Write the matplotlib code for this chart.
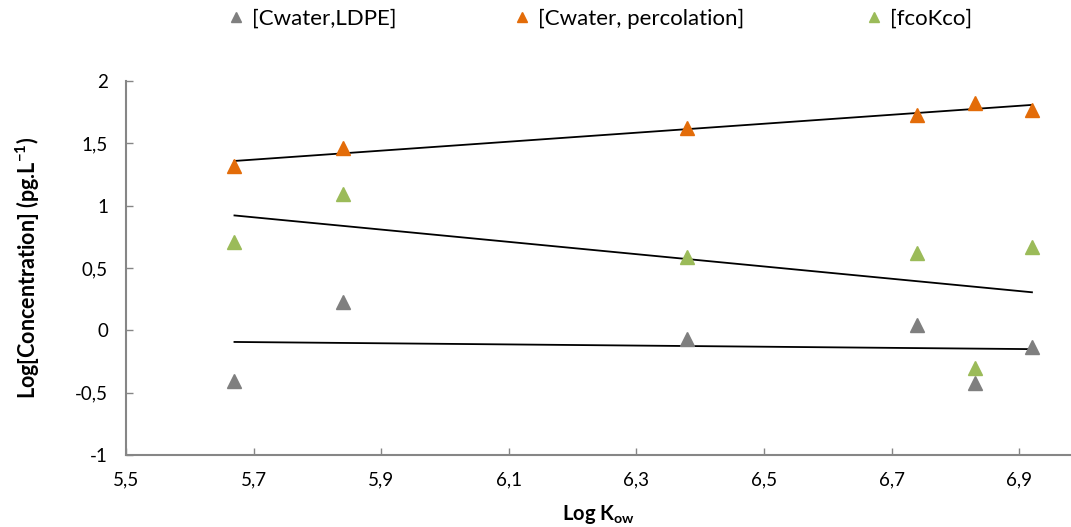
import numpy as np
import matplotlib
matplotlib.use("Agg")
import matplotlib.pyplot as plt

plt.rcParams['font.family'] = ['Lato', 'DejaVu Sans']

log_kow = [5.67, 5.84, 6.38, 6.74, 6.83, 6.92]
c_ldpe = [-0.41, 0.23, -0.07, 0.04, -0.42, -0.13]
c_perc = [1.32, 1.46, 1.62, 1.73, 1.82, 1.77]
fcokco = [0.71, 1.09, 0.59, 0.62, -0.30, 0.67]

series_names = ['[Cwater,LDPE]', '[Cwater, percolation]', '[fcoKco]']
colors = ['#7f7f7f', '#e36c09', '#9bbb59']

xticks = [5.5, 5.7, 5.9, 6.1, 6.3, 6.5, 6.7, 6.9]
xtick_labels = ['5,5', '5,7', '5,9', '6,1', '6,3', '6,5', '6,7', '6,9']
yticks = [-1, -0.5, 0, 0.5, 1, 1.5, 2]
ytick_labels = ['-1', '-0,5', '0', '0,5', '1', '1,5', '2']

fig = plt.figure(figsize=(10.71, 5.27), dpi=100)
ax = fig.add_axes([126/1071, 1-455/527, 1-126/1071, (455-81)/527])

x = np.array(log_kow)
handles = []
for ys, c, name in zip([c_ldpe, c_perc, fcokco], colors, series_names):
    ys = np.array(ys)
    h, = ax.plot(x, ys, linestyle='none', marker='^', color=c, ms=10, label=name, zorder=3)
    handles.append(h)
    k, b = np.polyfit(x, ys, 1)
    xx = np.array([x.min(), x.max()])
    ax.plot(xx, k*xx + b, color='black', lw=1.3, zorder=2)

ax.set_xlim(5.5, 5.5 + (1071-126)/638.0)
ax.set_ylim(-1, 2)
ax.set_xticks(xticks)
ax.set_xticklabels(xtick_labels, fontsize=13.5)
ax.set_yticks(yticks)
ax.set_yticklabels(ytick_labels, fontsize=13.5)
ax.tick_params(direction='in', length=5, color='#868686', width=1)
ax.tick_params(axis='x', pad=12)
ax.tick_params(axis='y', pad=13)
for s in ['top', 'right']:
    ax.spines[s].set_visible(False)
for s in ['left', 'bottom']:
    ax.spines[s].set_color('#868686')
    ax.spines[s].set_linewidth(1.5)

ax.set_xlabel('Log K$_\\mathregular{ow}$', fontsize=14.5, fontweight='bold', labelpad=10)
ax.set_ylabel('Log[Concentration] (pg.L$^\\mathregular{-1}$)', fontsize=15.5, fontweight='bold', labelpad=24)

# legend entries placed individually (marker centres in pixels)
leg_x_px = [236, 522, 874]
for h, px in zip(handles, leg_x_px):
    fs = 16
    offset_px = 0.3 * fs * 100 / 72
    fig.legend(handles=[h], loc='center left',
               bbox_to_anchor=((px - offset_px) / 1071, 1 - 19 / 527),
               frameon=False, fontsize=fs, markerscale=0.7, handlelength=0.6,
               handletextpad=0.4, borderpad=0, borderaxespad=0)

fig.savefig('out.png', dpi=100)
